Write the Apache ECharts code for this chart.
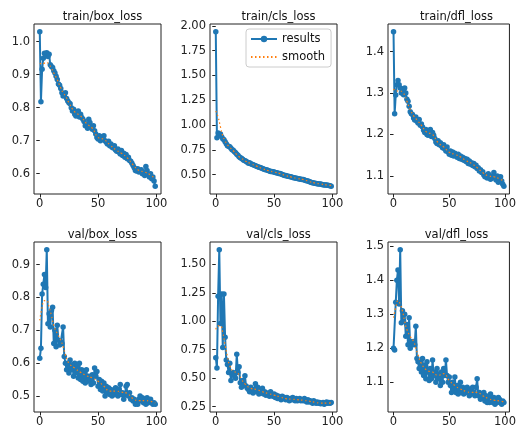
<!DOCTYPE html>
<html><head><meta charset="utf-8">
<script src="https://cdn.jsdelivr.net/npm/echarts@6/dist/echarts.min.js"></script>
<style>html,body{margin:0;padding:0;background:#fff}#c{width:519px;height:428px}</style>
</head><body><div id="c"></div>
<script>
const titles = ["train/box_loss","train/cls_loss","train/dfl_loss","val/box_loss","val/cls_loss","val/dfl_loss"];
const xTicks = [0,50,100];
const yTicks = [
  [0.6,0.7,0.8,0.9,1.0],
  [0.5,0.75,1.0,1.25,1.5,1.75,2.0],
  [1.1,1.2,1.3,1.4],
  [0.5,0.6,0.7,0.8,0.9],
  [0.25,0.5,0.75,1.0,1.25,1.5],
  [1.1,1.2,1.3,1.4,1.5]
];
const yDecimals = [1,2,1,1,2,1];

const trainBox = [1.030,0.818,0.916,0.950,0.965,0.960,0.966,0.955,0.962,0.930,0.925,0.922,0.912,0.905,0.895,0.885,0.872,0.868,0.858,0.845,0.835,0.838,0.845,0.828,0.820,0.815,0.812,0.800,0.790,0.795,0.780,0.775,0.785,0.790,0.772,0.780,0.770,0.765,0.758,0.745,0.750,0.738,0.765,0.755,0.742,0.735,0.745,0.730,0.720,0.710,0.705,0.715,0.700,0.712,0.705,0.715,0.700,0.695,0.690,0.698,0.685,0.690,0.680,0.678,0.685,0.672,0.668,0.675,0.665,0.660,0.670,0.655,0.662,0.650,0.658,0.645,0.650,0.640,0.638,0.632,0.625,0.618,0.610,0.608,0.615,0.605,0.610,0.612,0.600,0.605,0.595,0.622,0.610,0.598,0.590,0.600,0.585,0.590,0.578,0.562];
const trainCls = [1.94,0.87,0.92,0.90,0.91,0.88,0.86,0.85,0.83,0.81,0.79,0.785,0.78,0.765,0.75,0.745,0.73,0.72,0.705,0.695,0.68,0.67,0.665,0.655,0.645,0.64,0.635,0.625,0.615,0.62,0.61,0.605,0.60,0.595,0.59,0.585,0.58,0.575,0.57,0.565,0.56,0.555,0.55,0.548,0.545,0.54,0.535,0.532,0.53,0.528,0.525,0.52,0.518,0.515,0.51,0.51,0.505,0.50,0.495,0.49,0.49,0.485,0.482,0.48,0.478,0.475,0.47,0.468,0.465,0.462,0.46,0.458,0.455,0.452,0.45,0.45,0.445,0.44,0.438,0.435,0.43,0.425,0.42,0.418,0.415,0.412,0.41,0.408,0.406,0.404,0.405,0.40,0.398,0.396,0.395,0.394,0.392,0.39,0.388,0.382];
const trainDfl = [1.448,1.250,1.295,1.320,1.330,1.320,1.312,1.300,1.310,1.296,1.312,1.300,1.285,1.280,1.268,1.255,1.250,1.248,1.240,1.235,1.242,1.232,1.228,1.236,1.222,1.225,1.218,1.210,1.205,1.212,1.200,1.198,1.205,1.212,1.195,1.205,1.198,1.190,1.182,1.178,1.185,1.175,1.180,1.172,1.168,1.175,1.165,1.160,1.170,1.158,1.152,1.160,1.150,1.158,1.148,1.155,1.150,1.145,1.152,1.142,1.148,1.140,1.145,1.138,1.142,1.135,1.140,1.130,1.136,1.128,1.132,1.125,1.130,1.122,1.126,1.118,1.120,1.112,1.115,1.108,1.110,1.102,1.098,1.100,1.095,1.105,1.098,1.092,1.100,1.095,1.108,1.098,1.090,1.100,1.085,1.095,1.098,1.088,1.080,1.075];
const valBox = [0.615,0.645,0.81,0.84,0.87,0.83,0.945,0.72,0.75,0.71,0.76,0.77,0.66,0.70,0.65,0.715,0.67,0.655,0.665,0.66,0.71,0.62,0.60,0.58,0.60,0.57,0.61,0.58,0.595,0.56,0.60,0.57,0.59,0.555,0.60,0.55,0.58,0.545,0.575,0.54,0.58,0.545,0.56,0.55,0.535,0.565,0.54,0.585,0.56,0.575,0.53,0.55,0.52,0.545,0.515,0.54,0.50,0.53,0.51,0.525,0.505,0.52,0.50,0.515,0.505,0.525,0.51,0.50,0.52,0.535,0.505,0.51,0.49,0.505,0.53,0.535,0.50,0.51,0.49,0.495,0.485,0.49,0.475,0.48,0.475,0.49,0.50,0.485,0.495,0.48,0.49,0.475,0.495,0.48,0.485,0.49,0.48,0.475,0.48,0.475];
const valCls = [0.68,0.59,1.22,1.63,0.98,1.24,0.77,1.24,0.86,0.66,0.62,0.55,0.63,0.48,0.53,0.55,0.52,0.50,0.71,0.55,0.60,0.46,0.42,0.48,0.44,0.52,0.43,0.41,0.40,0.38,0.42,0.39,0.37,0.40,0.45,0.38,0.42,0.36,0.40,0.37,0.41,0.36,0.38,0.35,0.37,0.36,0.34,0.38,0.35,0.34,0.36,0.33,0.35,0.32,0.34,0.33,0.31,0.34,0.32,0.33,0.31,0.33,0.32,0.30,0.32,0.31,0.33,0.31,0.30,0.32,0.30,0.31,0.32,0.30,0.31,0.30,0.32,0.30,0.29,0.31,0.29,0.30,0.29,0.28,0.30,0.29,0.28,0.29,0.28,0.285,0.275,0.28,0.285,0.27,0.28,0.29,0.28,0.285,0.28,0.285];
const valDfl = [1.20,1.195,1.335,1.40,1.43,1.33,1.49,1.275,1.31,1.28,1.30,1.235,1.27,1.21,1.29,1.20,1.22,1.21,1.22,1.21,1.265,1.17,1.16,1.14,1.16,1.13,1.17,1.12,1.15,1.11,1.16,1.13,1.105,1.14,1.11,1.165,1.12,1.13,1.10,1.14,1.11,1.125,1.09,1.13,1.10,1.14,1.12,1.165,1.12,1.10,1.115,1.09,1.07,1.10,1.08,1.115,1.07,1.09,1.065,1.08,1.10,1.07,1.085,1.065,1.08,1.07,1.085,1.07,1.06,1.08,1.065,1.085,1.07,1.06,1.085,1.11,1.06,1.07,1.05,1.065,1.055,1.07,1.045,1.06,1.04,1.055,1.04,1.065,1.045,1.04,1.055,1.035,1.05,1.04,1.055,1.05,1.04,1.035,1.045,1.04];

const smoothEpochs = [0,2,4,6,8,10,12,15,18,20,22,25,30,35,40,45,50,55,60,65,70,75,80,85,90,95,99];
const trainBoxSmooth = [0.935,0.932,0.935,0.937,0.93,0.92,0.905,0.885,0.86,0.845,0.836,0.815,0.787,0.775,0.752,0.738,0.71,0.704,0.688,0.673,0.662,0.648,0.627,0.61,0.605,0.596,0.585];
const trainClsSmooth = [1.14,1.08,0.98,0.89,0.84,0.80,0.775,0.74,0.70,0.68,0.665,0.64,0.61,0.585,0.56,0.54,0.525,0.51,0.49,0.475,0.46,0.45,0.43,0.415,0.405,0.395,0.39];
const trainDflSmooth = [1.31,1.305,1.305,1.305,1.302,1.295,1.28,1.26,1.245,1.238,1.232,1.222,1.205,1.2,1.18,1.17,1.157,1.152,1.146,1.137,1.13,1.12,1.108,1.1,1.098,1.093,1.087];
const valBoxSmooth = [0.73,0.77,0.79,0.79,0.77,0.745,0.715,0.69,0.67,0.65,0.625,0.6,0.585,0.572,0.562,0.555,0.545,0.53,0.515,0.515,0.512,0.508,0.492,0.486,0.486,0.484,0.479];
const valClsSmooth = [0.93,0.96,0.96,0.9,0.79,0.69,0.61,0.56,0.55,0.53,0.49,0.45,0.41,0.4,0.38,0.365,0.35,0.335,0.32,0.315,0.31,0.305,0.297,0.288,0.28,0.28,0.282];
const valDflSmooth = [1.29,1.32,1.34,1.33,1.31,1.28,1.255,1.235,1.22,1.2,1.18,1.155,1.135,1.13,1.12,1.125,1.105,1.09,1.08,1.073,1.07,1.07,1.06,1.052,1.047,1.045,1.042];

const results = [trainBox,trainCls,trainDfl,valBox,valCls,valDfl];
const smooths = [trainBoxSmooth,trainClsSmooth,trainDflSmooth,valBoxSmooth,valClsSmooth,valDflSmooth];

const lefts = [34,210,388];
const tops = [24,242];
const W = 127, H = 170;
const FONT = "DejaVu Sans";
const TXT = "#222";

const grids=[], xAxes=[], yAxes=[], series=[], titleList=[];
for (let k=0;k<6;k++){
  const r = Math.floor(k/3), c = k%3;
  const L = lefts[c], T = tops[r];
  grids.push({left:L, top:T, width:W, height:H, show:true, borderColor:"#222", borderWidth:1, containLabel:false});
  const data = results[k];
  const xr = data.length-1;
  xAxes.push({gridIndex:k, type:"value", min:-0.05*xr, max:xr*1.05,
    axisLine:{show:false}, splitLine:{show:false},
    axisTick:{show:true, inside:false, length:3.5, lineStyle:{color:"#222",width:1}, customValues:xTicks},
    axisLabel:{show:true, margin:4, fontFamily:FONT, fontSize:11.5, color:TXT, customValues:xTicks}});
  const mn = Math.min(...data), mx = Math.max(...data), rg = mx-mn;
  const dec = yDecimals[k];
  yAxes.push({gridIndex:k, type:"value", min:mn-0.05*rg, max:mx+0.05*rg,
    axisLine:{show:false}, splitLine:{show:false},
    axisTick:{show:true, inside:false, length:3.5, lineStyle:{color:"#222",width:1}, customValues:yTicks[k]},
    axisLabel:{show:true, margin:4, fontFamily:FONT, fontSize:11.5, color:TXT, customValues:yTicks[k], formatter:v=>Number(v).toFixed(dec)}});
  series.push({name:"results", type:"line", xAxisIndex:k, yAxisIndex:k,
    data:data.map((v,i)=>[i,v]), symbol:"circle", symbolSize:5.5, showSymbol:true,
    itemStyle:{color:"#1f77b4"}, lineStyle:{color:"#1f77b4", width:2}, animation:false, z:2});
  series.push({name:"smooth", type:"line", xAxisIndex:k, yAxisIndex:k,
    data:smoothEpochs.map((e,i)=>[e,smooths[k][i]]), symbol:"none", smooth:true,
    lineStyle:{color:"#ff7f0e", width:1.2, type:[1.5,2.5]}, itemStyle:{color:"#ff7f0e"}, animation:false, z:3});
  titleList.push({text:titles[k], left:L+W/2, top:T-18, textAlign:"center",
    textStyle:{fontFamily:FONT, fontSize:11.5, fontWeight:"normal", color:"#111"}});
}

const chart = echarts.init(document.getElementById("c"), null, {renderer:"canvas"});
chart.setOption({
  animation:false,
  backgroundColor:"#fff",
  title:titleList,
  grid:grids, xAxis:xAxes, yAxis:yAxes, series:series,
  legend:[{show:true, data:["results", {name:"smooth", itemStyle:{opacity:0}}], orient:"vertical", left:246, top:29,
    itemWidth:26, itemHeight:8, itemGap:6, padding:[4,6,4,4],
    borderColor:"#ccc", borderWidth:1, borderRadius:3, backgroundColor:"#fff",
    selectedMode:false,
    textStyle:{fontFamily:FONT, fontSize:11.5, color:"#111"}}]
});
</script></body></html>
